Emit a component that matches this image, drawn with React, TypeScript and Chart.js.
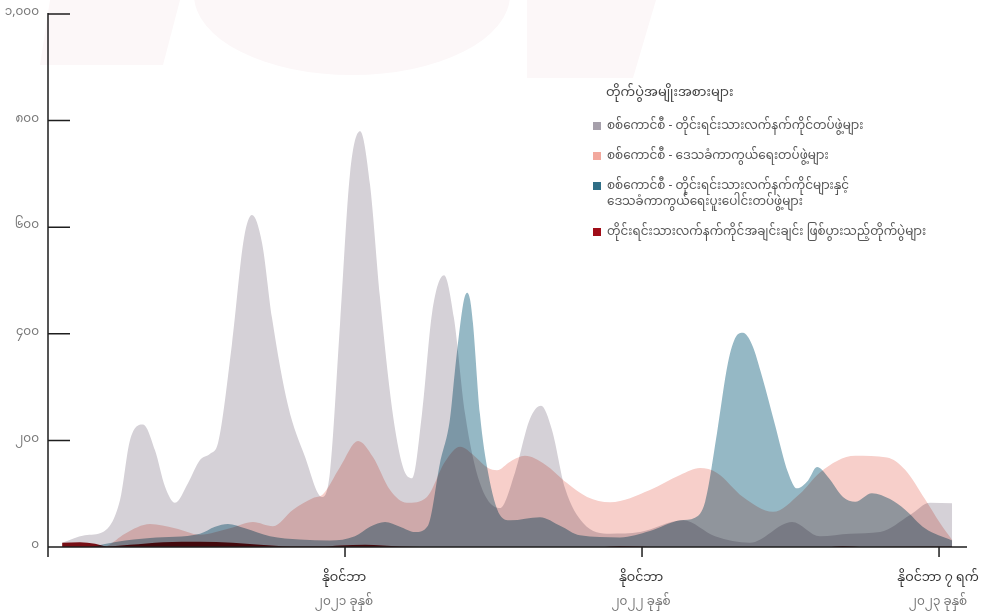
import React, { useEffect, useRef } from "react";
import { Chart, registerables } from "chart.js";

Chart.register(...registerables);

// ---- data (x = months since 1 Nov 2020, y = number of battles) ----
const grayMonths = [0.57, 1.49, 2.22, 2.91, 3.31, 3.84, 4.32, 4.73, 5.13, 5.66, 6.14, 6.55, 6.87, 7.43, 7.92, 8.24, 8.65, 9.05, 9.7, 10.38, 11.07, 11.39, 11.8, 12.2, 12.61, 13.01, 13.41, 13.9, 14.34, 14.71, 15.11, 15.52, 16.0, 16.4, 16.85, 17.45, 18.26, 18.87, 19.47, 19.92, 20.36, 20.89, 21.62, 22.71, 23.92, 25.66, 26.95, 28.36, 30.06, 31.19, 32.4, 33.62, 34.83, 35.64, 36.53];
const grayCounts = [8, 22, 28, 88, 200, 230, 182, 113, 83, 120, 163, 175, 195, 380, 580, 623, 570, 430, 265, 170, 94, 140, 420, 700, 780, 680, 470, 260, 150, 129, 250, 440, 510, 430, 250, 120, 73, 140, 240, 265, 220, 110, 45, 25, 28, 50, 20, 8, 47, 20, 25, 28, 60, 83, 82];

const pinkMonths = [2.1, 2.38, 3.11, 4.12, 5.13, 6.14, 7.35, 8.28, 9.09, 9.9, 10.71, 11.11, 11.8, 12.53, 13.13, 13.82, 14.5, 15.31, 16.04, 16.65, 17.25, 17.78, 18.14, 18.67, 19.27, 20.08, 20.97, 21.78, 22.71, 24.32, 25.54, 26.34, 27.03, 28.08, 29.29, 30.38, 31.19, 32.61, 33.9, 34.63, 35.43, 36.04, 36.53];
const pinkCounts = [0, 2, 25, 43, 35, 23, 35, 47, 39, 70, 92, 99, 150, 199, 169, 107, 83, 94, 160, 188, 170, 148, 144, 160, 171, 155, 120, 94, 84, 107, 135, 148, 139, 94, 66, 100, 140, 171, 168, 145, 90, 45, 13];

const blueMonths = [1.7, 2.79, 4.12, 6.14, 6.75, 7.27, 7.96, 8.97, 10.18, 11.39, 12.4, 13.01, 13.62, 14.22, 14.83, 15.35, 15.84, 16.24, 16.44, 16.69, 16.81, 16.93, 17.05, 17.17, 17.45, 17.78, 18.26, 18.67, 19.88, 20.69, 21.49, 23.11, 24.32, 25.54, 26.14, 26.55, 27.03, 27.47, 27.8, 28.08, 28.44, 28.85, 29.37, 29.9, 30.26, 30.71, 31.07, 31.52, 32.12, 32.61, 33.29, 34.02, 34.63, 35.43, 36.53];
const blueCounts = [0, 10, 17, 25, 38, 43, 35, 20, 14, 12, 20, 38, 47, 38, 28, 40, 158, 240, 330, 430, 465, 477, 465, 420, 250, 140, 60, 50, 56, 40, 22, 18, 30, 50, 55, 85, 214, 345, 395, 402, 380, 320, 230, 140, 110, 125, 150, 131, 94, 85, 101, 90, 70, 35, 12];

const redMonths = [0.57, 1.29, 1.9, 2.38, 3.31, 4.65, 6.14, 7.47, 8.57, 9.78, 11.0, 11.8, 12.81, 14.22, 15.84, 22.3, 23.1, 24.7, 31.5, 32.1, 33.0, 36.53];
const redCounts = [8, 9, 6, 1, 4, 9, 10, 8, 4, 1, 1, 3, 4, 1, 0, 0, 2, 0, 0, 2, 0, 1];

const seriesLabels = [
  "စစ်ကောင်စီ - တိုင်းရင်းသားလက်နက်ကိုင်တပ်ဖွဲ့များ",
  "စစ်ကောင်စီ - ဒေသခံကာကွယ်ရေးတပ်ဖွဲ့များ",
  "စစ်ကောင်စီ - တိုင်းရင်းသားလက်နက်ကိုင်များနှင့်\nဒေသခံကာကွယ်ရေးပူးပေါင်းတပ်ဖွဲ့များ",
  "တိုင်းရင်းသားလက်နက်ကိုင်အချင်းချင်း ဖြစ်ပွားသည့်တိုက်ပွဲများ",
];
const legendTitle = "တိုက်ပွဲအမျိုးအစားများ";
const swatchColors = ["#a6a0ab", "#f2a89d", "#2f6e86", "#a00d18"];
const fillColors = ["#d5d1d7", "#f7cfca", "#95b8c5", "#8e1018"];

const yTickValues = [0, 200, 400, 600, 800, 1000];
const yTickLabels = ["၀", "၂၀၀", "၄၀၀", "၆၀၀", "၈၀၀", "၁,၀၀၀"];
const xTickMonths = [12, 24, 36];
const xTickLine1 = ["နိုဝင်ဘာ", "နိုဝင်ဘာ", "နိုဝင်ဘာ ၇ ရက်"];
const xTickLine2 = ["၂၀၂၁ ခုနှစ်", "၂၀၂၂ ခုနှစ်", "၂၀၂၃ ခုနှစ်"];
const X_MIN = 0;
const X_MAX = 37.13;
const Y_MAX = 1000;

const FONT = '"Noto Sans Myanmar", "Padauk", "Myanmar Text", "Noto Sans", sans-serif';

const toPoints = (xs: number[], ys: number[]) => xs.map((x, i) => ({ x, y: ys[i] }));

const watermarkPlugin = {
  id: "watermark",
  beforeDatasetsDraw(chart: any) {
    const ctx = chart.ctx;
    ctx.save();
    ctx.fillStyle = "#fcf7f8";
    ctx.beginPath();
    ctx.moveTo(50, 0);
    ctx.lineTo(180, 0);
    ctx.lineTo(163, 65);
    ctx.lineTo(40, 65);
    ctx.closePath();
    ctx.fill();
    ctx.beginPath();
    ctx.ellipse(352, -5, 158, 80, 0, 0, Math.PI);
    ctx.fill();
    ctx.beginPath();
    ctx.moveTo(527, 0);
    ctx.lineTo(656, 0);
    ctx.lineTo(633, 78);
    ctx.lineTo(527, 78);
    ctx.closePath();
    ctx.fill();
    ctx.restore();
  },
};

// areas are blended with "multiply" so overlaps darken
const multiplyPlugin = {
  id: "multiply",
  beforeDatasetsDraw(chart: any) {
    chart.ctx.save();
    chart.ctx.globalCompositeOperation = "multiply";
  },
  afterDatasetsDraw(chart: any) {
    chart.ctx.restore();
  },
};

const axesPlugin = {
  id: "axesDraw",
  afterDraw(chart: any) {
    const { ctx } = chart;
    const xs = chart.scales.x;
    const ys = chart.scales.y;
    const x0 = xs.getPixelForValue(X_MIN);
    const x1 = xs.getPixelForValue(X_MAX);
    const y0 = ys.getPixelForValue(0);
    const yTop = ys.getPixelForValue(Y_MAX);
    ctx.save();
    ctx.globalCompositeOperation = "source-over";
    ctx.strokeStyle = "#1e1e1e";
    ctx.lineWidth = 1.5;
    ctx.beginPath();
    ctx.moveTo(x0, yTop - 1);
    ctx.lineTo(x0, y0 + 10);
    ctx.moveTo(x0, y0);
    ctx.lineTo(x1, y0);
    yTickValues.forEach((v) => {
      const py = ys.getPixelForValue(v);
      ctx.moveTo(x0, py);
      ctx.lineTo(x0 + 22, py);
    });
    xTickMonths.forEach((m) => {
      const px = xs.getPixelForValue(m);
      ctx.moveTo(px, y0);
      ctx.lineTo(px, y0 + 10);
    });
    ctx.stroke();

    ctx.font = `12px ${FONT}`;
    ctx.fillStyle = "#777";
    ctx.textAlign = "right";
    ctx.textBaseline = "middle";
    yTickValues.forEach((v, i) => {
      ctx.fillText(yTickLabels[i], x0 - 9, ys.getPixelForValue(v));
    });
    ctx.textAlign = "center";
    xTickMonths.forEach((m, i) => {
      const px = xs.getPixelForValue(m);
      ctx.font = `12.5px ${FONT}`;
      ctx.fillStyle = "#333";
      ctx.fillText(xTickLine1[i], px - 1, y0 + 33);
      ctx.font = `12px ${FONT}`;
      ctx.fillStyle = "#777";
      ctx.fillText(xTickLine2[i], px - 1, y0 + 57);
    });
    ctx.restore();
  },
};

export default function App() {
  const ref = useRef<HTMLCanvasElement>(null);
  useEffect(() => {
    if (!ref.current) return;
    const series = [
      toPoints(grayMonths, grayCounts),
      toPoints(pinkMonths, pinkCounts),
      toPoints(blueMonths, blueCounts),
      toPoints(redMonths, redCounts),
    ];
    const chart = new Chart(ref.current, {
      type: "line",
      data: {
        datasets: series.map((d, i) => ({
          label: seriesLabels[i],
          data: d,
          fill: "origin",
          backgroundColor: fillColors[i],
          borderWidth: 0,
          pointRadius: 0,
          cubicInterpolationMode: "monotone" as const,
        })),
      },
      options: {
        animation: false,
        responsive: false,
        maintainAspectRatio: false,
        layout: { padding: { left: 48, top: 14, right: 18, bottom: 66 } },
        plugins: { legend: { display: false }, tooltip: { enabled: false } },
        scales: {
          x: { type: "linear", min: X_MIN, max: X_MAX, display: false },
          y: { type: "linear", min: 0, max: Y_MAX, display: false },
        },
      },
      plugins: [watermarkPlugin, multiplyPlugin, axesPlugin],
    });
    return () => chart.destroy();
  }, []);

  return (
    <div style={{ position: "absolute", left: 0, top: 0, width: 985, height: 613, background: "#fff", fontFamily: FONT }}>
      <canvas ref={ref} width={985} height={613} style={{ position: "absolute", left: 0, top: 0 }} />
      <div style={{ position: "absolute", left: 593, top: 83, color: "#444" }}>
        <div style={{ fontSize: 13, lineHeight: "20px", marginLeft: 13, marginBottom: 15 }}>{legendTitle}</div>
        {seriesLabels.map((lab, i) => (
          <div key={i} style={{ display: "flex", alignItems: "flex-start", marginBottom: 14, fontSize: 12, lineHeight: "16px", color: "#555" }}>
            <span style={{ display: "inline-block", width: 8, height: 8, background: swatchColors[i], marginTop: 4, marginRight: 6, flex: "none" }} />
            <span style={{ whiteSpace: "pre" }}>{lab}</span>
          </div>
        ))}
      </div>
    </div>
  );
}
